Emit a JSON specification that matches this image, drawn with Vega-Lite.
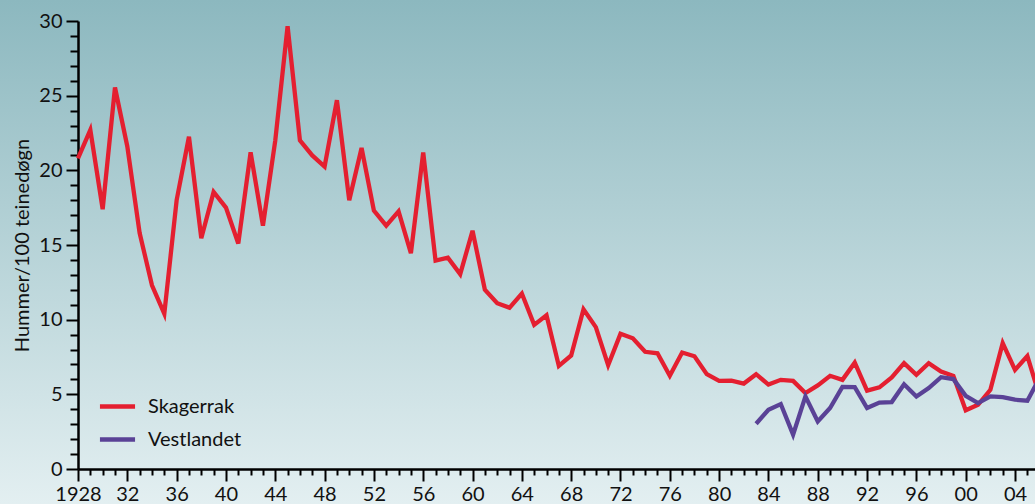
{
  "$schema": "https://vega.github.io/schema/vega-lite/v6.json",
  "width": 1035,
  "height": 504,
  "autosize": {"type": "none"},
  "padding": 0,
  "background": "#e3eff1",
  "config": {
    "font": "Lato",
    "view": {
      "stroke": null,
      "fill": {"x1": 0, "y1": 0, "x2": 0, "y2": 1, "gradient": "linear",
        "stops": [{"offset": 0, "color": "#8cb8bf"}, {"offset": 1, "color": "#e3eff1"}]}
    }
  },
  "data": {"values": [
    {"year":1928,"series":"Skagerrak","value":20.8},
    {"year":1929,"series":"Skagerrak","value":22.7},
    {"year":1930,"series":"Skagerrak","value":17.4},
    {"year":1931,"series":"Skagerrak","value":25.55},
    {"year":1932,"series":"Skagerrak","value":21.6},
    {"year":1933,"series":"Skagerrak","value":15.8},
    {"year":1934,"series":"Skagerrak","value":12.3},
    {"year":1935,"series":"Skagerrak","value":10.4},
    {"year":1936,"series":"Skagerrak","value":18.0},
    {"year":1937,"series":"Skagerrak","value":22.25},
    {"year":1938,"series":"Skagerrak","value":15.45},
    {"year":1939,"series":"Skagerrak","value":18.55},
    {"year":1940,"series":"Skagerrak","value":17.5},
    {"year":1941,"series":"Skagerrak","value":15.1},
    {"year":1942,"series":"Skagerrak","value":21.2},
    {"year":1943,"series":"Skagerrak","value":16.3},
    {"year":1944,"series":"Skagerrak","value":22.0},
    {"year":1945,"series":"Skagerrak","value":29.65},
    {"year":1946,"series":"Skagerrak","value":22.0},
    {"year":1947,"series":"Skagerrak","value":21.0},
    {"year":1948,"series":"Skagerrak","value":20.25},
    {"year":1949,"series":"Skagerrak","value":24.7},
    {"year":1950,"series":"Skagerrak","value":18.0},
    {"year":1951,"series":"Skagerrak","value":21.5},
    {"year":1952,"series":"Skagerrak","value":17.3},
    {"year":1953,"series":"Skagerrak","value":16.3},
    {"year":1954,"series":"Skagerrak","value":17.25},
    {"year":1955,"series":"Skagerrak","value":14.45},
    {"year":1956,"series":"Skagerrak","value":21.2},
    {"year":1957,"series":"Skagerrak","value":13.95},
    {"year":1958,"series":"Skagerrak","value":14.15},
    {"year":1959,"series":"Skagerrak","value":13.05},
    {"year":1960,"series":"Skagerrak","value":15.95},
    {"year":1961,"series":"Skagerrak","value":12.0},
    {"year":1962,"series":"Skagerrak","value":11.1},
    {"year":1963,"series":"Skagerrak","value":10.8},
    {"year":1964,"series":"Skagerrak","value":11.75},
    {"year":1965,"series":"Skagerrak","value":9.65},
    {"year":1966,"series":"Skagerrak","value":10.3},
    {"year":1967,"series":"Skagerrak","value":6.9},
    {"year":1968,"series":"Skagerrak","value":7.6},
    {"year":1969,"series":"Skagerrak","value":10.7},
    {"year":1970,"series":"Skagerrak","value":9.5},
    {"year":1971,"series":"Skagerrak","value":6.95},
    {"year":1972,"series":"Skagerrak","value":9.05},
    {"year":1973,"series":"Skagerrak","value":8.75},
    {"year":1974,"series":"Skagerrak","value":7.85},
    {"year":1975,"series":"Skagerrak","value":7.75},
    {"year":1976,"series":"Skagerrak","value":6.25},
    {"year":1977,"series":"Skagerrak","value":7.8},
    {"year":1978,"series":"Skagerrak","value":7.55},
    {"year":1979,"series":"Skagerrak","value":6.35},
    {"year":1980,"series":"Skagerrak","value":5.9},
    {"year":1981,"series":"Skagerrak","value":5.92},
    {"year":1982,"series":"Skagerrak","value":5.72},
    {"year":1983,"series":"Skagerrak","value":6.35},
    {"year":1984,"series":"Skagerrak","value":5.65},
    {"year":1985,"series":"Skagerrak","value":5.97},
    {"year":1986,"series":"Skagerrak","value":5.9},
    {"year":1987,"series":"Skagerrak","value":5.08},
    {"year":1988,"series":"Skagerrak","value":5.6},
    {"year":1989,"series":"Skagerrak","value":6.24},
    {"year":1990,"series":"Skagerrak","value":5.97},
    {"year":1991,"series":"Skagerrak","value":7.12},
    {"year":1992,"series":"Skagerrak","value":5.25},
    {"year":1993,"series":"Skagerrak","value":5.47},
    {"year":1994,"series":"Skagerrak","value":6.13},
    {"year":1995,"series":"Skagerrak","value":7.09},
    {"year":1996,"series":"Skagerrak","value":6.31},
    {"year":1997,"series":"Skagerrak","value":7.08},
    {"year":1998,"series":"Skagerrak","value":6.53},
    {"year":1999,"series":"Skagerrak","value":6.24},
    {"year":2000,"series":"Skagerrak","value":3.93},
    {"year":2001,"series":"Skagerrak","value":4.3},
    {"year":2002,"series":"Skagerrak","value":5.3},
    {"year":2003,"series":"Skagerrak","value":8.43},
    {"year":2004,"series":"Skagerrak","value":6.64},
    {"year":2005,"series":"Skagerrak","value":7.56},
    {"year":2006,"series":"Skagerrak","value":4.85},
    {"year":1983,"series":"Vestlandet","value":3.03},
    {"year":1984,"series":"Vestlandet","value":3.97},
    {"year":1985,"series":"Vestlandet","value":4.35},
    {"year":1986,"series":"Vestlandet","value":2.3},
    {"year":1987,"series":"Vestlandet","value":4.86},
    {"year":1988,"series":"Vestlandet","value":3.18},
    {"year":1989,"series":"Vestlandet","value":4.08},
    {"year":1990,"series":"Vestlandet","value":5.5},
    {"year":1991,"series":"Vestlandet","value":5.48},
    {"year":1992,"series":"Vestlandet","value":4.08},
    {"year":1993,"series":"Vestlandet","value":4.45},
    {"year":1994,"series":"Vestlandet","value":4.48},
    {"year":1995,"series":"Vestlandet","value":5.67},
    {"year":1996,"series":"Vestlandet","value":4.86},
    {"year":1997,"series":"Vestlandet","value":5.42},
    {"year":1998,"series":"Vestlandet","value":6.15},
    {"year":1999,"series":"Vestlandet","value":6.02},
    {"year":2000,"series":"Vestlandet","value":4.9},
    {"year":2001,"series":"Vestlandet","value":4.41},
    {"year":2002,"series":"Vestlandet","value":4.86},
    {"year":2003,"series":"Vestlandet","value":4.81},
    {"year":2004,"series":"Vestlandet","value":4.64},
    {"year":2005,"series":"Vestlandet","value":4.57},
    {"year":2006,"series":"Vestlandet","value":6.1}
  ]},
  "mark": {"type": "line", "strokeWidth": 4.3, "clip": true, "strokeJoin": "miter"},
  "encoding": {
    "x": {
      "field": "year", "type": "quantitative",
      "scale": {"domain": [1928, 2005.62], "range": [78, 1035], "nice": false, "zero": false},
      "axis": {
        "title": null,
        "orient": "bottom",
        "offset": -35,
        "values": [1928,1929,1930,1931,1932,1933,1934,1935,1936,1937,1938,1939,1940,1941,1942,1943,1944,1945,1946,1947,1948,1949,1950,1951,1952,1953,1954,1955,1956,1957,1958,1959,1960,1961,1962,1963,1964,1965,1966,1967,1968,1969,1970,1971,1972,1973,1974,1975,1976,1977,1978,1979,1980,1981,1982,1983,1984,1985,1986,1987,1988,1989,1990,1991,1992,1993,1994,1995,1996,1997,1998,1999,2000,2001,2002,2003,2004,2005],
        "labelExpr": "datum.value % 4 === 0 ? (datum.value === 1928 ? '1928' : substring(toString(datum.value), 2)) : ''",
        "labelOverlap": false,
        "labelFontSize": 20,
        "labelColor": "#111111",
        "labelPadding": 3,
        "labelFlush": false,
        "grid": false,
        "domainColor": "#000000",
        "domainWidth": 2.5,
        "tickColor": "#000000",
        "tickWidth": 2,
        "tickSize": {"condition": {"test": "datum.value % 4 === 0", "value": 12}, "value": 6}
      }
    },
    "y": {
      "field": "value", "type": "quantitative",
      "scale": {"domain": [0, 30], "range": [469, 21], "nice": false},
      "axis": {
        "title": "Hummer/100 teinedøgn",
        "orient": "left",
        "offset": -78,
        "titleFontSize": 20,
        "titleFontWeight": "normal",
        "titleColor": "#111111",
        "titlePadding": 6,
        "values": [0,1,2,3,4,5,6,7,8,9,10,11,12,13,14,15,16,17,18,19,20,21,22,23,24,25,26,27,28,29,30],
        "labelExpr": "datum.value % 5 === 0 ? toString(datum.value) : ''",
        "labelOverlap": false,
        "labelFontSize": 20,
        "labelColor": "#111111",
        "labelPadding": 4,
        "labelFlush": false,
        "grid": false,
        "domainColor": "#000000",
        "domainWidth": 2.5,
        "tickColor": "#000000",
        "tickWidth": 2,
        "tickSize": {"condition": {"test": "datum.value % 5 === 0", "value": 12}, "value": 8}
      }
    },
    "color": {
      "field": "series", "type": "nominal",
      "scale": {"domain": ["Skagerrak", "Vestlandet"], "range": ["#e41f30", "#5a4296"]},
      "legend": {
        "title": null,
        "orient": "none",
        "legendX": 100,
        "legendY": 389,
        "padding": 0,
        "symbolType": "M-1.17,0H1.17",
        "symbolSize": 900,
        "symbolStrokeWidth": 4.3,
        "labelFontSize": 20,
        "labelColor": "#111111",
        "labelOffset": 13,
        "rowPadding": 5
      }
    }
  }
}
